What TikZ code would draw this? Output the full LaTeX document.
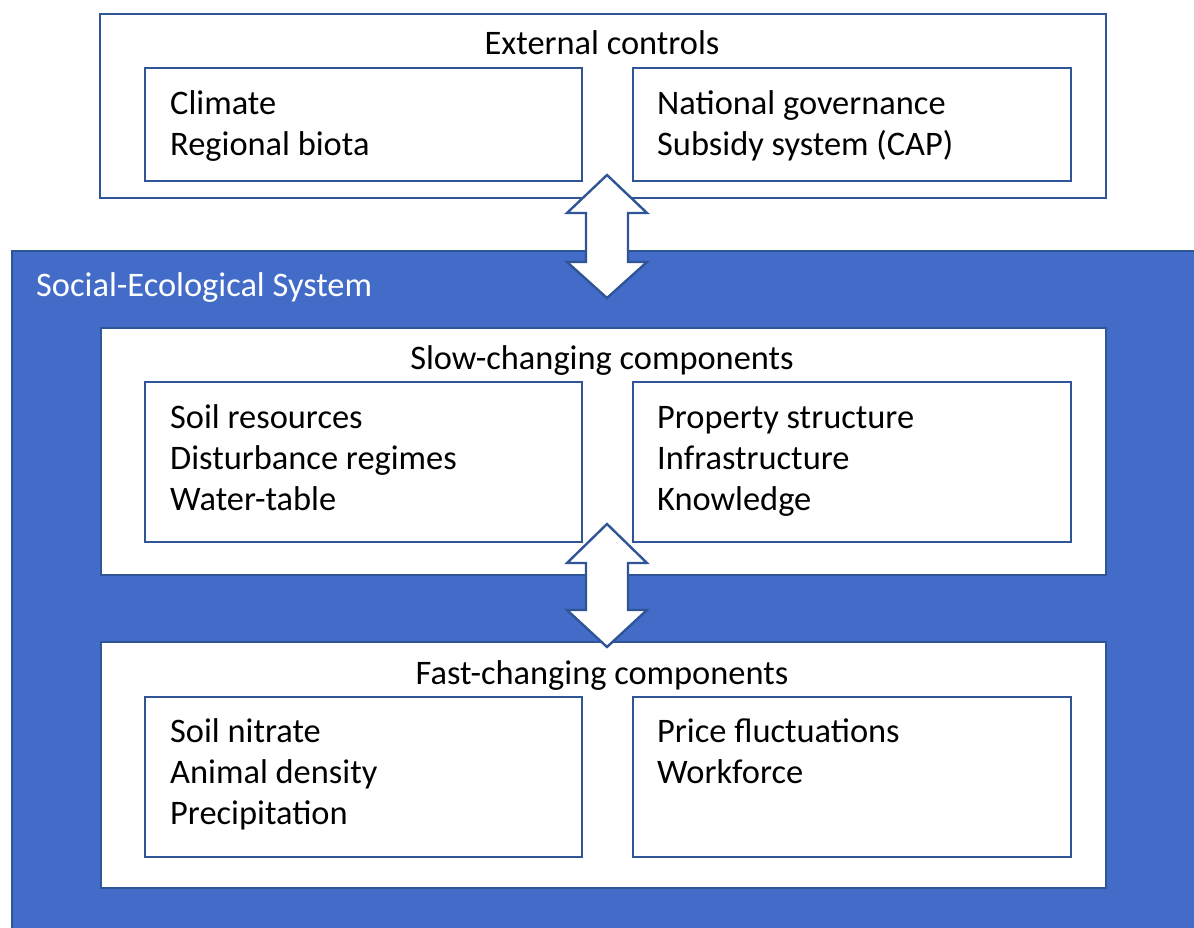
\documentclass[tikz,border=0pt]{standalone}
\usepackage{fontspec}
\setmainfont{Carlito}
\definecolor{sesblue}{HTML}{426CC8}
\definecolor{edgeblue}{HTML}{2F5597}
\begin{document}
\begin{tikzpicture}[x=1pt,y=-1pt,
  outerbox/.style={draw=edgeblue, line width=2.4pt, fill=white, anchor=north west, inner sep=0pt},
  innerbox/.style={draw=edgeblue, line width=2.4pt, fill=white, anchor=north west, inner sep=0pt, minimum width=437pt, minimum height=113pt},
  listtext/.style={anchor=base west, align=left, inner sep=0pt, font=\fontsize{34.4}{41}\selectfont},
  titletext/.style={anchor=base, inner sep=0pt, font=\fontsize{34.4}{41}\selectfont},
  dblarrow/.style={draw=edgeblue, line width=2.4pt, fill=white, line join=miter}
]
\useasboundingbox (0,0) rectangle (1194,928);
\clip (0,0) rectangle (1194,928);

% Social-ecological system background
\node[draw=edgeblue, line width=2.4pt, fill=sesblue, anchor=north west, inner sep=0pt,
      minimum width=1200pt, minimum height=700pt] (ses) at (11,250) {};
\node[anchor=base west, inner sep=0pt, text=white, font=\fontsize{34.4}{41}\selectfont] (sestitle) at (36,296) {Social-Ecological System};

% External controls
\node[outerbox, minimum width=1006pt, minimum height=184pt] (ext) at (99,13) {};
\node[titletext] (exttitle) at (602,55) {External controls};
\node[innerbox] (extL) at (144,67) {};
\node[innerbox, minimum width=438pt] (extR) at (632,67) {};
\node[listtext] (extLt) at (170,156) {Climate\\Regional biota};
\node[listtext] (extRt) at (657,156) {National governance\\Subsidy system (CAP)};

% Slow-changing components
\node[outerbox, minimum width=1005pt, minimum height=247pt] (slow) at (100,327) {};
\node[titletext] (slowtitle) at (602,369) {Slow-changing components};
\node[innerbox, minimum height=160pt] (slowL) at (144,381) {};
\node[innerbox, minimum width=438pt, minimum height=160pt] (slowR) at (632,381) {};
\node[listtext] (slowLt) at (170,510) {Soil resources\\Disturbance regimes\\Water-table};
\node[listtext] (slowRt) at (657,510) {Property structure\\Infrastructure\\Knowledge};

% Fast-changing components
\node[outerbox, minimum width=1005pt, minimum height=246pt] (fast) at (100,641) {};
\node[titletext] (fasttitle) at (602,684) {Fast-changing components};
\node[innerbox, minimum height=160pt] (fastL) at (144,696) {};
\node[innerbox, minimum width=438pt, minimum height=160pt] (fastR) at (632,696) {};
\node[listtext] (fastLt) at (170,824) {Soil nitrate\\Animal density\\Precipitation};
\node[listtext] (fastRt) at (657,783) {Price fluctuations\\Workforce};

% Double arrows
\coordinate (a1) at (607,175);
\draw[dblarrow] (a1) -- ++(40,38) -- ++(-19,0) -- ++(0,49) -- ++(19,0) -- ++(-40,36)
  -- ++(-40,-36) -- ++(19,0) -- ++(0,-49) -- ++(-19,0) -- cycle;
\coordinate (a2) at (607,524);
\draw[dblarrow] (a2) -- ++(40,39) -- ++(-19,0) -- ++(0,47) -- ++(19,0) -- ++(-40,37)
  -- ++(-40,-37) -- ++(19,0) -- ++(0,-47) -- ++(-19,0) -- cycle;
\end{tikzpicture}
\end{document}
